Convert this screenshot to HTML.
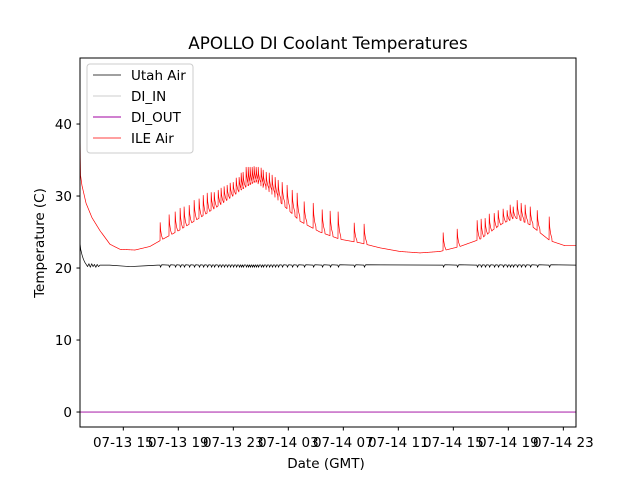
<!DOCTYPE html>
<html><head><meta charset="utf-8"><style>
body{margin:0;background:#fff}
svg text{font-family:"DejaVu Sans","Liberation Sans",sans-serif;fill:#000}
</style></head><body>
<svg id="chart" width="640" height="480" xmlns="http://www.w3.org/2000/svg">
<rect width="640" height="480" fill="#fff"/>
<text x="328" y="49" font-size="16.8" text-anchor="middle">APOLLO DI Coolant Temperatures</text>
<g id="plot"></g>
<rect x="80" y="58" width="496" height="369" fill="none" stroke="#000" stroke-width="1"/>
<g id="axes"></g>
<text x="326" y="468" font-size="13.5" text-anchor="middle">Date (GMT)</text>
<text transform="translate(44,243) rotate(-90)" font-size="13.5" text-anchor="middle">Temperature (C)</text>
<g>
<rect x="87" y="64" width="106" height="89" rx="3" fill="#fff" fill-opacity="0.8" stroke="#ccc" stroke-width="1"/>
<g><line x1="93" y1="75" x2="121" y2="75" stroke="#000" stroke-width="0.7"/><text x="131" y="80" font-size="13.5">Utah Air</text></g>
<g><line x1="93" y1="96" x2="121" y2="96" stroke="#bbb" stroke-width="0.7"/><text x="131" y="101" font-size="13.5">DI_IN</text></g>
<g><line x1="93" y1="117" x2="121" y2="117" stroke="#a000a0" stroke-width="0.9"/><text x="131" y="122" font-size="13.5">DI_OUT</text></g>
<g><line x1="93" y1="138" x2="121" y2="138" stroke="#f00" stroke-width="0.7"/><text x="131" y="143" font-size="13.5">ILE Air</text></g>
</g>
</svg>
<script>
// hours since 07-13 00:00
const xTickHours = [15,19,23,27,31,35,39,43,47];
const xTickLabels = ["07-13 15","07-13 19","07-13 23","07-14 03","07-14 07","07-14 11","07-14 15","07-14 19","07-14 23"];
const yTicks = [0,10,20,30,40];
const ileBaseT = [11.85,11.88,11.99,12.29,12.72,13.30,14.03,14.76,15.85,16.94,17.67,19.12,20.58,22.03,23.49,24.58,25.67,26.76,27.85,29.30,30.76,32.21,33.67,35.12,36.58,38.03,39.49,40.94,42.39,43.48,44.58,46.03,47.12,47.92];
const ileBaseV = [40,33,31.5,29,27,25.2,23.3,22.6,22.5,23.0,23.8,25.3,27.0,28.8,30.8,32.0,30.5,28.5,26.5,25.0,24.0,23.5,22.8,22.3,22.1,22.3,23.0,24.0,26.0,27.0,26.0,23.8,23.1,23.1];
const spikeT = [17.67,18.32,18.76,19.12,19.41,19.78,20.14,20.50,20.80,21.09,21.38,21.60,21.89,22.10,22.32,22.54,22.76,22.98,23.20,23.41,23.56,23.70,23.92,24.07,24.21,24.36,24.50,24.65,24.80,25.01,25.16,25.38,25.60,25.81,26.03,26.25,26.54,26.90,27.27,27.63,28.14,28.80,29.45,30.03,30.61,31.78,32.50,38.25,39.27,40.72,41.01,41.30,41.60,41.96,42.25,42.61,42.90,43.12,43.34,43.63,43.92,44.21,44.58,45.09,45.96];
const spikePeak = [26.3,27.4,27.8,28.3,28.5,28.7,29.4,29.6,30.1,30.4,30.5,30.5,30.8,31.1,31.3,31.5,31.8,31.9,32.5,32.6,33.2,33.3,34.0,34.0,34.0,34.0,34.1,34.0,34.0,33.9,33.6,33.3,33.2,32.9,32.6,32.2,31.9,31.5,30.8,30.4,29.2,29.0,28.1,27.9,27.8,26.25,26.1,24.9,25.4,26.6,26.8,26.9,27.5,27.6,28.0,28.2,28.0,28.75,28.5,29.4,29.0,28.75,28.5,28.0,27.1];
const utahT = [11.85,11.9,12.0,12.1,12.2,12.3,12.4,12.5,12.6,12.7,12.8,12.9,13.0,13.1,13.2,13.3,14.0,15.5,16.5,17.5,47.92];
const utahV = [23.5,22.6,21.8,21.2,20.8,20.5,20.2,20.6,20.1,20.6,20.2,20.5,20.1,20.5,20.2,20.4,20.4,20.2,20.3,20.4,20.4];
const utahDip = 0.3;
const diInV = 0, diOutV = 0;
const X0=80,X1=576,Y0=427,Y1=58,TMIN=11.85,TMAX=47.92,VMIN=-2.08,VMAX=49.17;
const sx=t=>X0+(t-TMIN)/(TMAX-TMIN)*(X1-X0);
const sy=v=>Y0-(v-VMIN)/(VMAX-VMIN)*(Y0-Y1);
const NS="http://www.w3.org/2000/svg";
function interp(T,V,t){for(let i=1;i<T.length;i++){if(t<=T[i]){const f=(t-T[i-1])/(T[i]-T[i-1]);return V[i-1]+f*(V[i]-V[i-1]);}}return V[V.length-1];}
const plot=document.getElementById('plot'),axes=document.getElementById('axes');
function path(d,color,w,name){const p=document.createElementNS(NS,'path');p.setAttribute('d',d);p.setAttribute('fill','none');p.setAttribute('stroke',color);p.setAttribute('stroke-width',w);p.setAttribute('stroke-linejoin','round');


plot.appendChild(p);}
// ILE Air
let pts=[];let si=0;
for(let t=TMIN;t<=TMAX+1e-9;t+=0.02){
 while(si<spikeT.length&&spikeT[si]<=t){const s=spikeT[si],b=interp(ileBaseT,ileBaseV,s),pk=spikePeak[si];
  pts.push([s,b]);pts.push([s+0.01,pk]);pts.push([s+0.05,b+0.55*(pk-b)]);pts.push([s+0.12,b+0.25*(pk-b)]);pts.push([s+0.2,b+0.08*(pk-b)]);
  t=Math.max(t,s+0.22);si++;}
 if(pts.length&&pts[pts.length-1][0]>t)continue;
 pts.push([t,interp(ileBaseT,ileBaseV,t)]);
}
// Utah Air
let up=[];for(let i=0;i<utahT.length-1;i++){up.push([utahT[i],utahV[i]]);}
let ut=[];let k=0;
for(const p of up.concat([[TMAX,utahV[utahV.length-1]]])){
 while(k<spikeT.length&&spikeT[k]<p[0]){const s=spikeT[k];const b=interp(utahT,utahV,s);ut.push([s,b]);ut.push([s+0.03,b-utahDip]);ut.push([s+0.12,b+0.05]);k++;}
 ut.push(p);
}
const toD=a=>a.map((p,i)=>(i?'L':'M')+sx(p[0]).toFixed(2)+' '+sy(p[1]).toFixed(2)).join('');
path(toD([[TMIN,diInV],[TMAX,diInV]]),'#bbb',0.7,'di-in-line');
path(toD([[TMIN,diOutV],[TMAX,diOutV]]),'#a000a0',0.9,'di-out-line');
path(toD(ut),'#000',0.7,'utah-air-line');
path(toD(pts),'#f00',0.7,'ile-air-line');
// axes
xTickHours.forEach((h,i)=>{const x=sx(h);
 const l=document.createElementNS(NS,'line');l.setAttribute('x1',x);l.setAttribute('x2',x);l.setAttribute('y1',427);l.setAttribute('y2',430.5);l.setAttribute('stroke','#000');
 
 
 axes.appendChild(l);
 const t=document.createElementNS(NS,'text');t.setAttribute('x',x);t.setAttribute('y',447);t.setAttribute('font-size','13.5');t.setAttribute('text-anchor','middle');t.textContent=xTickLabels[i];
 
 
 axes.appendChild(t);});
yTicks.forEach(v=>{const y=sy(v);
 const l=document.createElementNS(NS,'line');l.setAttribute('x1',76.5);l.setAttribute('x2',80);l.setAttribute('y1',y);l.setAttribute('y2',y);l.setAttribute('stroke','#000');
 
 
 axes.appendChild(l);
 const t=document.createElementNS(NS,'text');t.setAttribute('x',72);t.setAttribute('y',y+5);t.setAttribute('font-size','13.5');t.setAttribute('text-anchor','end');t.textContent=v;
 
 
 axes.appendChild(t);});
</script>
</body></html>
